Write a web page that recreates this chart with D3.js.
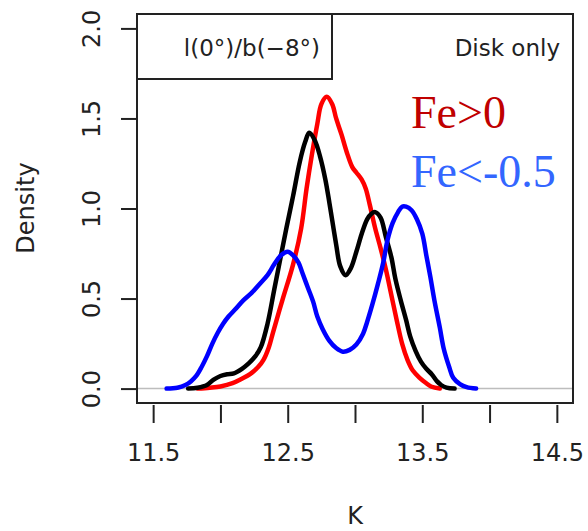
<!DOCTYPE html>
<html>
<head>
<meta charset="utf-8">
<script src="https://cdn.jsdelivr.net/npm/d3@7"></script>
<style>
  html, body { margin: 0; padding: 0; background: #fff; }
  text { font-family: "DejaVu Sans", sans-serif; fill: #222; }
</style>
</head>
<body>
<div id="chart"></div>
<script>
// Tick values
const xTicks = [11.5, 12.0, 12.5, 13.0, 13.5, 14.0, 14.5];
const xLabels = [11.5, 12.5, 13.5, 14.5];
const yTicks = [0.0, 0.5, 1.0, 1.5, 2.0];

// Density curves: [K, density]
const allStars = [
  [11.76, 0], [11.83, 0.005], [11.90, 0.02], [11.95, 0.05], [12.00, 0.07], [12.05, 0.08],
  [12.10, 0.085], [12.16, 0.11], [12.21, 0.14], [12.26, 0.18], [12.30, 0.23], [12.35, 0.36],
  [12.40, 0.55], [12.45, 0.74], [12.49, 0.89], [12.54, 1.07], [12.59, 1.26], [12.63, 1.37],
  [12.66, 1.42], [12.70, 1.38], [12.74, 1.29], [12.78, 1.16], [12.81, 1.03], [12.86, 0.80],
  [12.89, 0.68], [12.93, 0.63], [12.97, 0.67], [13.01, 0.76], [13.05, 0.86], [13.09, 0.94],
  [13.12, 0.97], [13.15, 0.98], [13.19, 0.95], [13.23, 0.84], [13.27, 0.73], [13.30, 0.61],
  [13.34, 0.49], [13.38, 0.38], [13.41, 0.29], [13.45, 0.21], [13.49, 0.15], [13.53, 0.11],
  [13.57, 0.08], [13.61, 0.04], [13.64, 0.02], [13.68, 0.005], [13.74, 0]
];

const feRich = [
  [11.83, 0], [11.92, 0.005], [12.00, 0.012], [12.09, 0.03], [12.16, 0.055], [12.22, 0.08],
  [12.28, 0.12], [12.32, 0.16], [12.36, 0.23], [12.39, 0.31], [12.46, 0.49], [12.54, 0.69],
  [12.60, 0.89], [12.64, 1.11], [12.68, 1.30], [12.72, 1.47], [12.75, 1.58], [12.79, 1.62],
  [12.83, 1.58], [12.86, 1.50], [12.90, 1.41], [12.94, 1.31], [12.98, 1.23], [13.01, 1.20],
  [13.05, 1.16], [13.08, 1.11], [13.11, 1.02], [13.15, 0.89], [13.19, 0.78], [13.23, 0.66],
  [13.27, 0.52], [13.31, 0.38], [13.35, 0.25], [13.39, 0.16], [13.43, 0.10], [13.48, 0.06],
  [13.53, 0.03], [13.57, 0.01], [13.63, 0]
];

const fePoor = [
  [11.60, 0], [11.68, 0.005], [11.74, 0.02], [11.78, 0.04], [11.82, 0.07], [11.86, 0.12],
  [11.90, 0.18], [11.94, 0.25], [11.98, 0.31], [12.02, 0.36], [12.06, 0.40], [12.11, 0.44],
  [12.17, 0.49], [12.23, 0.53], [12.29, 0.58], [12.35, 0.63], [12.40, 0.69], [12.45, 0.74],
  [12.50, 0.76], [12.54, 0.74], [12.58, 0.70], [12.61, 0.64], [12.65, 0.56], [12.69, 0.48],
  [12.72, 0.40], [12.76, 0.33], [12.81, 0.265], [12.86, 0.225], [12.91, 0.205], [12.96, 0.215],
  [13.01, 0.245], [13.06, 0.305], [13.09, 0.37], [13.13, 0.47], [13.17, 0.58], [13.21, 0.70],
  [13.24, 0.82], [13.28, 0.92], [13.32, 0.98], [13.35, 1.01], [13.38, 1.01], [13.42, 0.99],
  [13.46, 0.94], [13.50, 0.86], [13.53, 0.74], [13.56, 0.62], [13.59, 0.49], [13.63, 0.34],
  [13.66, 0.22], [13.70, 0.12], [13.73, 0.06], [13.78, 0.025], [13.83, 0.008], [13.90, 0]
];

// Plot region (R-style, 4% padding around the data range)
let box = {left: 137, right: 573, top: 14, bottom: 403};
let width = 588, height = 531;

let svg = d3.select("#chart")
    .append("svg")
    .attr("width", width)
    .attr("height", height);

const x = d3.scaleLinear()
    .domain([11.38, 14.62])
    .range([box.left, box.right]);

const y = d3.scaleLinear()
    .domain([-0.08, 2.08])
    .range([box.bottom, box.top]);

// Zero line
svg.append("line")
    .attr("x1", box.left).attr("x2", box.right)
    .attr("y1", y(0)).attr("y2", y(0))
    .style("stroke", "#bdbdbd")
    .style("stroke-width", 1.5);

// Curves
const line = d3.line()
    .x(d => x(d[0]))
    .y(d => y(d[1]))
    .curve(d3.curveCatmullRom.alpha(0.5));

[[feRich, "#ff0000"], [allStars, "#000000"], [fePoor, "#0000ff"]].forEach(([data, color]) => {
    svg.append("path")
        .datum(data)
        .attr("d", line)
        .style("fill", "none")
        .style("stroke", color)
        .style("stroke-width", 4.5)
        .style("stroke-linejoin", "round")
        .style("stroke-linecap", "round");
});

// Plot frame
svg.append("rect")
    .attr("x", box.left).attr("y", box.top)
    .attr("width", box.right - box.left)
    .attr("height", box.bottom - box.top)
    .style("fill", "none")
    .style("stroke", "#222")
    .style("stroke-width", 2);

// Panel label box
svg.append("rect")
    .attr("x", box.left).attr("y", box.top)
    .attr("width", 195).attr("height", 65)
    .style("fill", "none")
    .style("stroke", "#222")
    .style("stroke-width", 2);

svg.append("text")
    .attr("x", 320).attr("y", 56)
    .style("text-anchor", "end")
    .style("font-size", "23px")
    .text("l(0°)/b(−8°)");

svg.append("text")
    .attr("x", 560).attr("y", 56)
    .style("text-anchor", "end")
    .style("font-size", "23px")
    .text("Disk only");

// Metallicity labels
svg.append("text")
    .attr("x", 411).attr("y", 128)
    .style("font-family", "'Liberation Serif', 'Times New Roman', serif")
    .style("font-size", "46px")
    .style("fill", "#c00000")
    .text("Fe>0");

svg.append("text")
    .attr("x", 411).attr("y", 187)
    .style("font-family", "'Liberation Serif', 'Times New Roman', serif")
    .style("font-size", "46px")
    .style("fill", "#3366ff")
    .text("Fe<-0.5");

// X axis (offset slightly below the frame)
let xAxis = svg.append("g")
    .attr("transform", `translate(0, 405)`)
    .call(d3.axisBottom(x)
        .tickValues(xTicks)
        .tickSize(18)
        .tickFormat(d => xLabels.includes(d) ? d3.format(".1f")(d) : ""));
xAxis.select(".domain").remove();
xAxis.selectAll(".tick line").style("stroke", "#222").style("stroke-width", 2);
xAxis.selectAll(".tick text")
    .attr("y", 56).attr("dy", 0)
    .style("font-size", "24px")
    .style("fill", "#222");

// Y axis
let yAxis = svg.append("g")
    .attr("transform", `translate(${box.left}, 0)`)
    .call(d3.axisLeft(y)
        .tickValues(yTicks)
        .tickSize(16)
        .tickFormat(d3.format(".1f")));
yAxis.select(".domain").remove();
yAxis.selectAll(".tick line").style("stroke", "#222").style("stroke-width", 2);
yAxis.selectAll(".tick text")
    .attr("transform", "rotate(-90)")
    .attr("x", 0).attr("y", -37).attr("dy", 0)
    .style("text-anchor", "middle")
    .style("font-size", "24px")
    .style("fill", "#222");

// Axis titles
svg.append("text")
    .attr("x", 355).attr("y", 524)
    .style("text-anchor", "middle")
    .style("font-size", "24px")
    .text("K");

svg.append("text")
    .attr("transform", "translate(34, 208) rotate(-90)")
    .style("text-anchor", "middle")
    .style("font-size", "24px")
    .text("Density");
</script>
</body>
</html>
